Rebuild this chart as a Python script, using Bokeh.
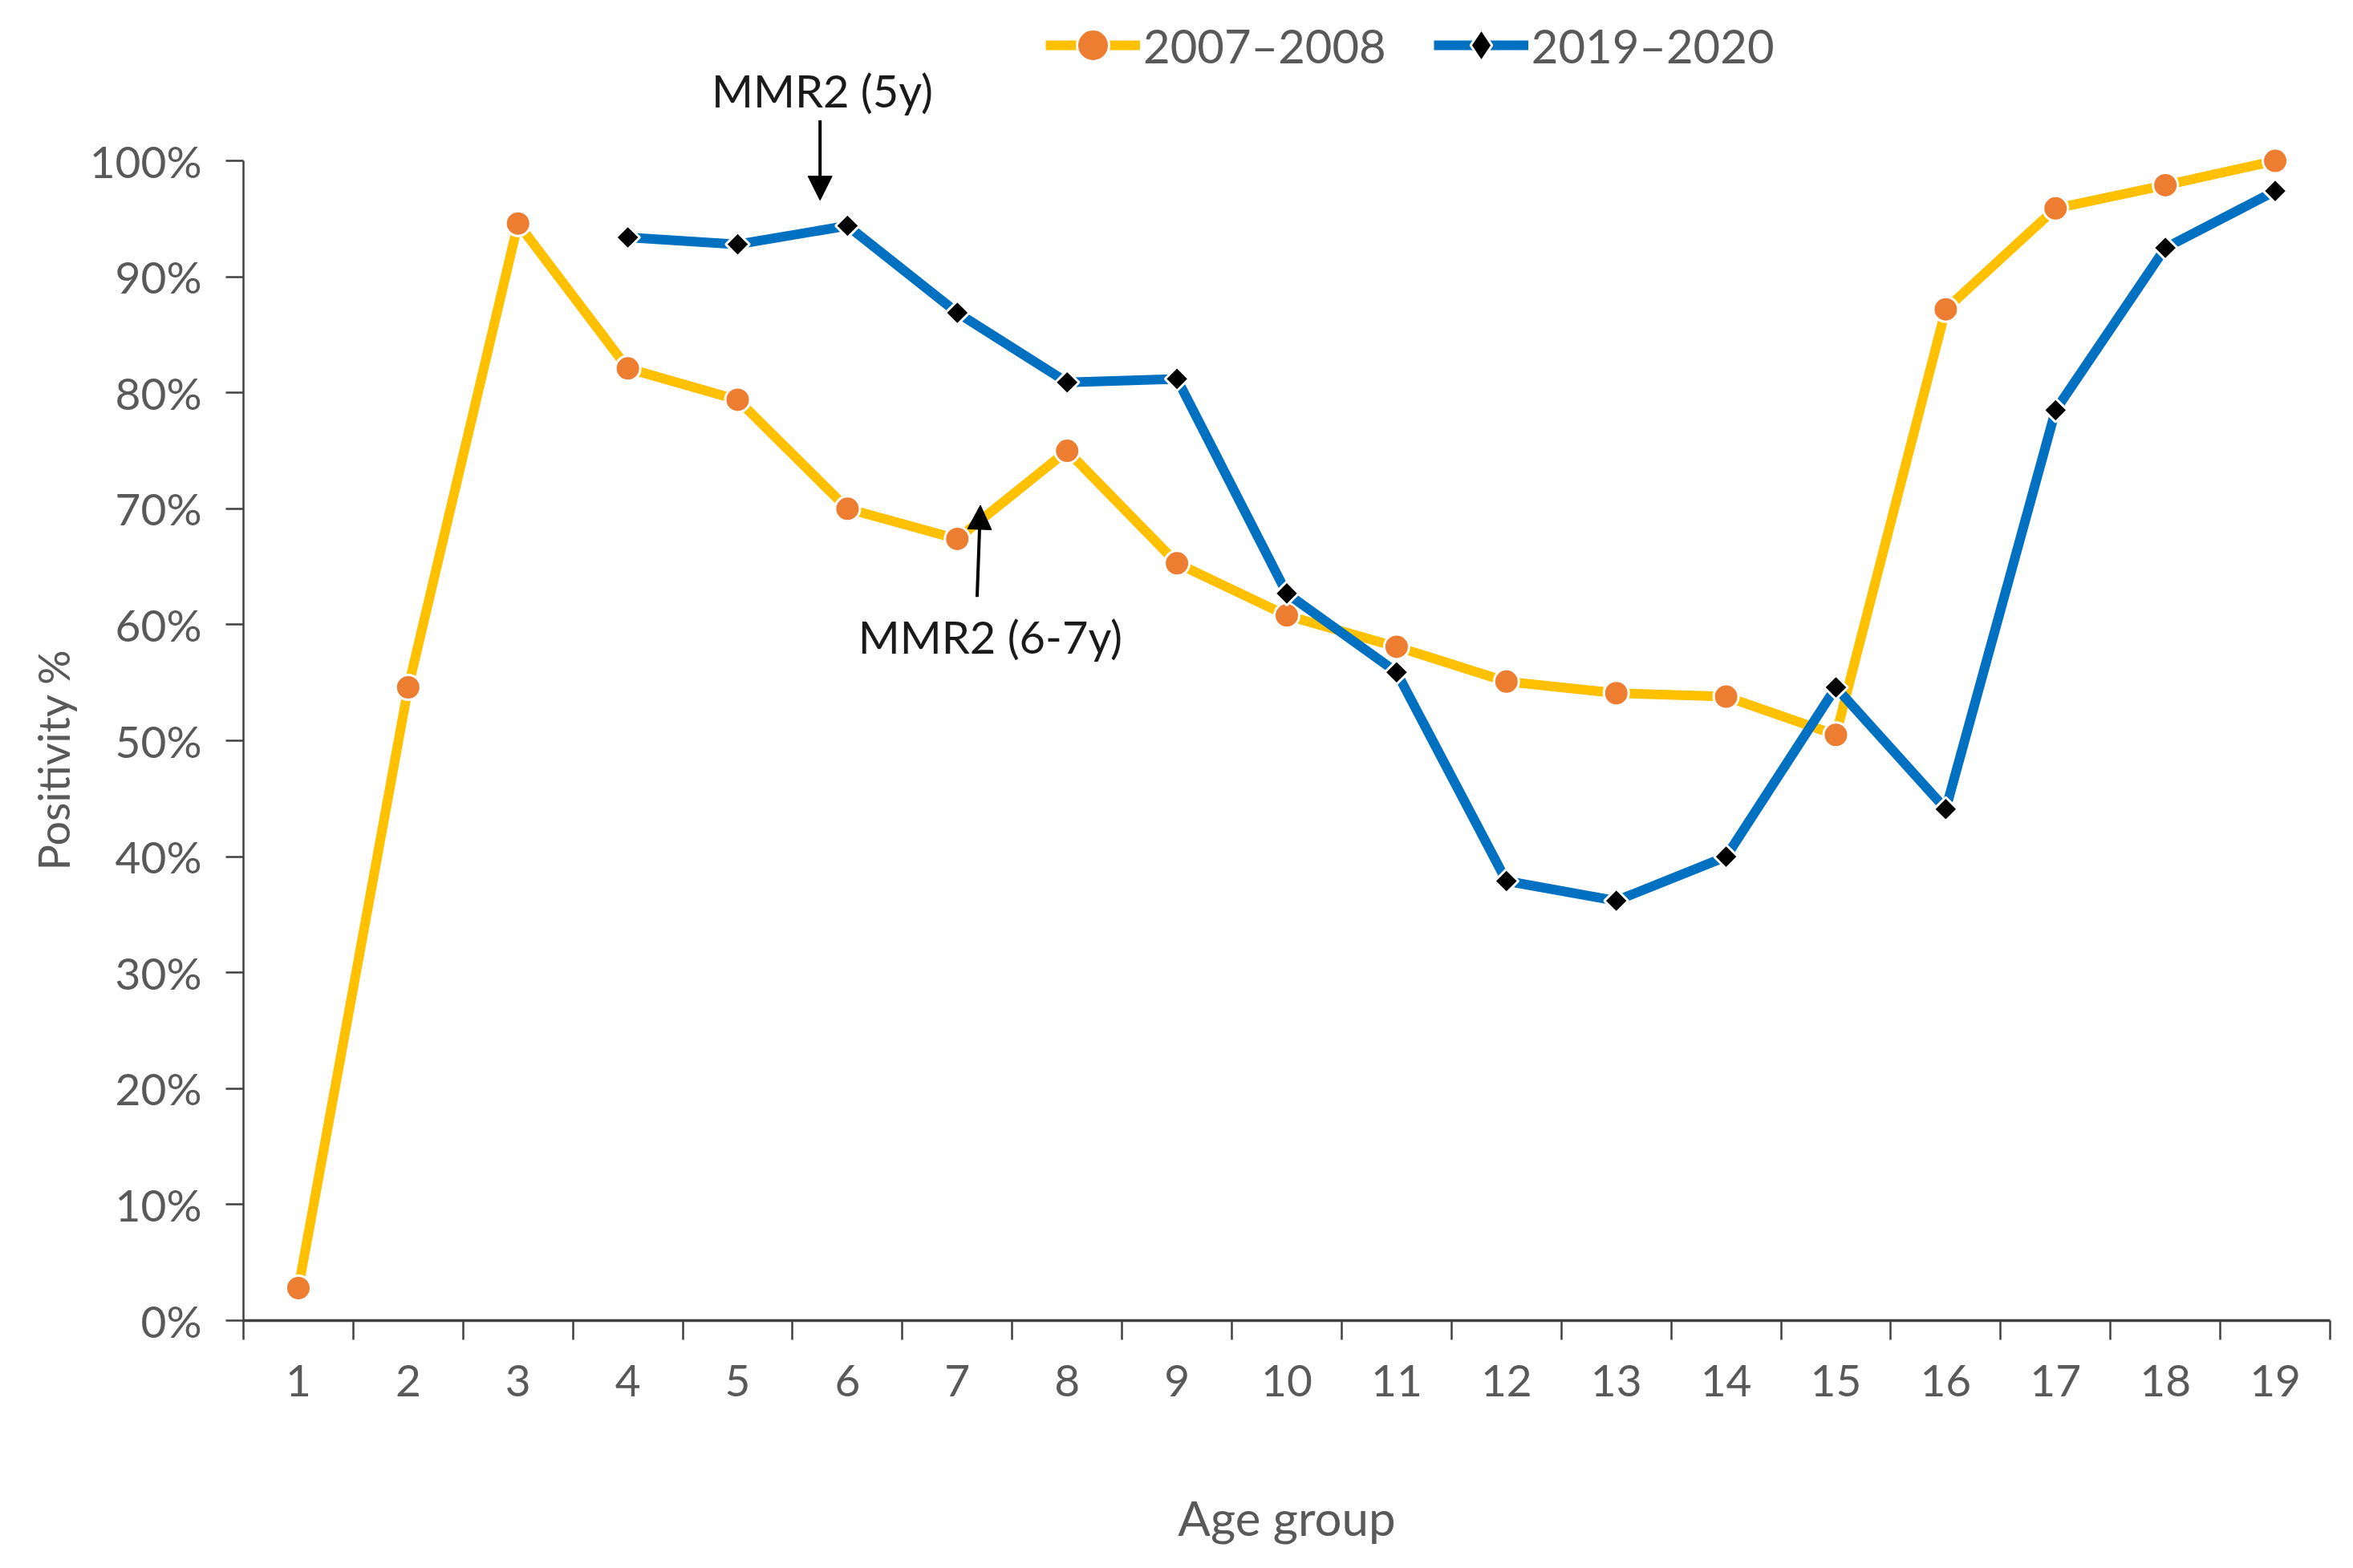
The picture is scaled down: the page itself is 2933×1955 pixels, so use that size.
import math
from bokeh.plotting import figure
from bokeh.models import (Range1d, FixedTicker, NumeralTickFormatter, Legend, LegendItem,
                          Arrow, NormalHead, Label, ColumnDataSource, Title)
from bokeh.embed import file_html
from bokeh.resources import INLINE

# ---- data ----
ages_2007 = list(range(1, 20))
pos_2007 = [0.028, 0.546, 0.946, 0.821, 0.794, 0.700, 0.674, 0.750, 0.653, 0.608,
            0.581, 0.551, 0.541, 0.538, 0.505, 0.872, 0.959, 0.979, 1.000]
ages_2019 = list(range(4, 20))
pos_2019 = [0.934, 0.928, 0.944, 0.869, 0.809, 0.812, 0.627, 0.559, 0.379, 0.362,
            0.400, 0.546, 0.441, 0.785, 0.925, 0.974]
series_labels = ["2007\u20132008", "2019\u20132020"]
y_ticks = [0.0, 0.1, 0.2, 0.3, 0.4, 0.5, 0.6, 0.7, 0.8, 0.9, 1.0]
x_title = "Age group"
y_title = "Positivity %"

# annotations
ann_texts = ["MMR2 (5y)", "MMR2 (6-7y)"]
ann_text_x = [5.77, 7.30]
ann_text_y = [1.061, 0.590]
arr_x0 = [5.75, 7.18]
arr_y0 = [1.035, 0.624]
arr_x1 = [5.75, 7.21]
arr_y1 = [0.966, 0.703]

FONT = "Lato"
GRAY = "#595959"

p = figure(width=2915, height=1937, x_range=Range1d(0.5, 19.5), y_range=Range1d(0, 1.1259),
           output_backend="svg", toolbar_location=None,
           min_border_left=303, min_border_right=11, min_border_top=18, min_border_bottom=291)
p.outline_line_color = None
p.grid.visible = False
p.background_fill_color = "white"
p.border_fill_color = "white"

src07 = ColumnDataSource(dict(x=ages_2007, y=pos_2007))
src19 = ColumnDataSource(dict(x=ages_2019, y=pos_2019))

l07 = p.line("x", "y", source=src07, line_color="#FFC000", line_width=12, line_join="round")
m07 = p.scatter("x", "y", source=src07, marker="circle", size=31, fill_color="#ED7D31",
                line_color="white", line_width=3)
l19 = p.line("x", "y", source=src19, line_color="#0070C0", line_width=12, line_join="round")
m19 = p.scatter("x", "y", source=src19, marker="square", angle=math.pi / 4, size=21,
                fill_color="black", line_color="white", line_width=3)
# diamond used only for the legend swatch
d19 = p.scatter("x", "y", source=src19, marker="diamond", size=40,
                fill_color="black", line_color="white", line_width=3, visible=False)

# x axis
xa = p.xaxis[0]
xa.ticker = FixedTicker(ticks=ages_2007, minor_ticks=[a - 0.5 for a in ages_2007] + [19.5])
xa.major_tick_line_color = None
xa.major_tick_out = 24
xa.major_tick_in = 0
xa.minor_tick_out = 24
xa.minor_tick_in = 0
xa.minor_tick_line_color = "#404040"
xa.minor_tick_line_width = 2.5
xa.axis_line_color = "#404040"
xa.axis_line_width = 3.5
xa.major_label_standoff = 31
xa.major_label_text_font = FONT
xa.major_label_text_font_size = "55px"
xa.major_label_text_color = GRAY
xa.axis_label = x_title
xa.axis_label_standoff = 112
xa.axis_label_text_font = FONT
xa.axis_label_text_font_size = "60px"
xa.axis_label_text_font_style = "normal"
xa.axis_label_text_color = GRAY

# y axis
ya = p.yaxis[0]
ya.ticker = FixedTicker(ticks=y_ticks, minor_ticks=[])
ya.formatter = NumeralTickFormatter(format="0%")
ya.bounds = (0, 1)
ya.major_tick_out = 22
ya.major_tick_in = 0
ya.major_tick_line_color = "#404040"
ya.major_tick_line_width = 2.5
ya.minor_tick_line_color = None
ya.axis_line_color = "#404040"
ya.axis_line_width = 2.5
ya.major_label_standoff = 30
ya.major_label_text_font = FONT
ya.major_label_text_font_size = "55px"
ya.major_label_text_color = GRAY

p.add_layout(Title(text=y_title, align="left", offset=561, standoff=20, text_font=FONT,
                   text_font_size="54px", text_font_style="normal", text_color=GRAY), "left")

# annotations
for i in range(len(ann_texts)):
    p.add_layout(Arrow(end=NormalHead(size=30, fill_color="black", line_color="black"),
                       x_start=arr_x0[i], y_start=arr_y0[i], x_end=arr_x1[i], y_end=arr_y1[i],
                       line_color="black", line_width=4))
    p.add_layout(Label(x=ann_text_x[i], y=ann_text_y[i], text=ann_texts[i],
                       text_align="center", text_baseline="middle",
                       text_font=FONT, text_font_size="56px", text_color="#1a1a1a"))

legend = Legend(items=[LegendItem(label=series_labels[0], renderers=[l07, m07]),
                       LegendItem(label=series_labels[1], renderers=[l19, d19])],
                orientation="horizontal", location=(1000, 1540),
                glyph_width=118, glyph_height=100, label_height=100,
                label_standoff=4, spacing=59, padding=0, margin=0,
                border_line_color=None, background_fill_alpha=0,
                inactive_fill_alpha=0,
                label_text_font=FONT, label_text_font_size="58px",
                label_text_color=GRAY, label_text_baseline="middle")
p.add_layout(legend)

open("out.html", "w").write(file_html(p, INLINE))
